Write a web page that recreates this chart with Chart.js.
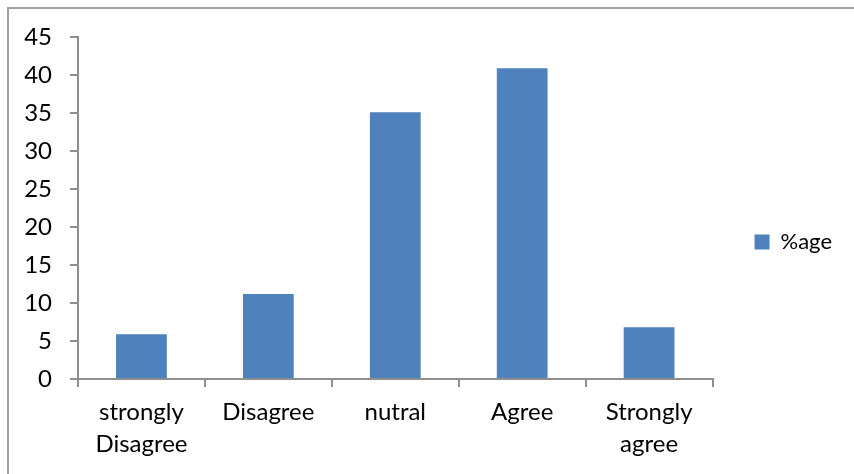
<!DOCTYPE html>
<html>
<head>
<meta charset="utf-8">
<title>%age</title>
<script src="https://cdn.jsdelivr.net/npm/chart.js@4/dist/chart.umd.min.js"></script>
<style>
  html, body { margin: 0; padding: 0; background: #fff; overflow: hidden; }
  #frame {
    position: fixed; left: 7px; top: 7px; width: 847px; height: 467px;
    border-left: 2px solid #a0a0a0; border-top: 2px solid #a0a0a0;
  }
  #chart { position: fixed; left: 0; top: 0; }
</style>
</head>
<body>
<div id="frame"></div>
<canvas id="chart" width="854" height="474"></canvas>
<script>
// Survey responses (percentage of respondents per answer)
const categories = [
  ['strongly', 'Disagree'],
  'Disagree',
  'nutral',
  'Agree',
  ['Strongly', 'agree']
];
const seriesName = '%age';
const percentages = [5.9, 11.2, 35.1, 40.9, 6.8];
const yTicks = [0, 5, 10, 15, 20, 25, 30, 35, 40, 45];

const FAMILY = 'Lato, "Noto Sans", sans-serif';
const AXIS_GREY = '#8e8e8e';
const LEGEND_ITEM_CENTER_Y = 242;

// Keeps the single legend entry at a fixed height beside the plot
const legendPlacement = {
  id: 'legendPlacement',
  afterUpdate(chart) {
    const legend = chart.legend;
    if (!legend || !legend.legendHitBoxes || !legend.legendHitBoxes.length) return;
    const hb = legend.legendHitBoxes[0];
    const dy = LEGEND_ITEM_CENTER_Y - (hb.top + hb.height / 2);
    legend.top += dy;
    legend.bottom += dy;
    legend.legendHitBoxes.forEach(b => { b.top += dy; });
  }
};

new Chart(document.getElementById('chart'), {
  type: 'bar',
  data: {
    labels: categories,
    datasets: [{
      label: seriesName,
      data: percentages,
      backgroundColor: '#4F81BD',
      borderWidth: 0,
      categoryPercentage: 0.8,
      barPercentage: 0.5
    }]
  },
  plugins: [legendPlacement],
  options: {
    responsive: false,
    animation: false,
    layout: { padding: { left: 0, top: 37, right: 12, bottom: 0 } },
    plugins: {
      tooltip: { enabled: false },
      legend: {
        position: 'right',
        align: 'center',
        labels: {
          boxWidth: 15,
          boxHeight: 15,
          padding: 42,
          color: '#000',
          font: { family: FAMILY, size: 22 }
        }
      }
    },
    scales: {
      x: {
        afterFit(scale) { scale.height = 95; },
        grid: {
          display: true,
          offset: true,
          drawOnChartArea: false,
          drawTicks: true,
          tickLength: 8,
          color: AXIS_GREY,
          lineWidth: 2
        },
        border: { display: true, color: AXIS_GREY, width: 2 },
        ticks: {
          color: '#000',
          font: { family: FAMILY, size: 24, lineHeight: 1.3 },
          padding: 10,
          maxRotation: 0,
          autoSkip: false
        }
      },
      y: {
        min: 0,
        max: 45,
        afterFit(scale) { scale.width = 78; },
        afterBuildTicks(scale) { scale.ticks = yTicks.map(v => ({ value: v })); },
        grid: {
          display: true,
          drawOnChartArea: false,
          drawTicks: true,
          tickLength: 8,
          color: AXIS_GREY,
          lineWidth: 2
        },
        border: { display: true, color: AXIS_GREY, width: 2 },
        ticks: {
          color: '#000',
          font: { family: FAMILY, size: 24 },
          padding: 18
        }
      }
    }
  }
});
</script>
</body>
</html>
